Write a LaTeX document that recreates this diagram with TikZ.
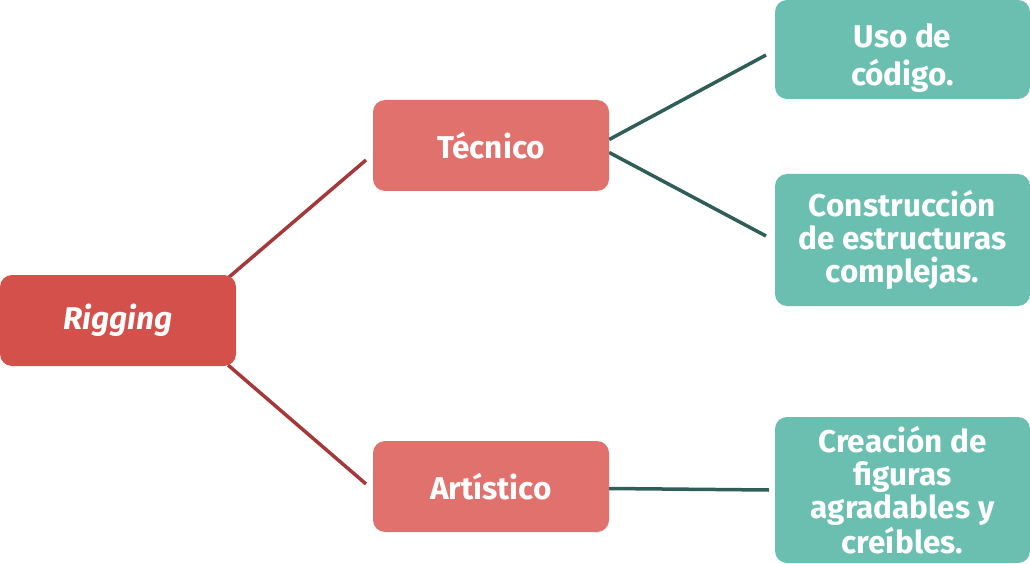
\documentclass[tikz,border=0pt]{standalone}
\usepackage{fontspec}
\setmainfont{Fira Sans}
\usetikzlibrary{backgrounds}
\definecolor{rootred}{HTML}{D4504B}
\definecolor{midred}{HTML}{E0716C}
\definecolor{leafteal}{HTML}{6BBFB1}
\definecolor{linered}{HTML}{A3393A}
\definecolor{lineteal}{HTML}{2F5E58}
\tikzset{
  box/.style={rounded corners=12pt, inner sep=0pt, align=center, text=white,
    font=\fontsize{31.5}{33}\selectfont\bfseries},
  rootbox/.style={box, fill=rootred, minimum width=236pt, minimum height=91pt},
  midbox/.style={box, fill=midred, minimum width=236pt, minimum height=91pt},
  leafbox/.style={box, fill=leafteal, minimum width=255pt},
  redline/.style={draw=linered, line width=3.5pt},
  tealline/.style={draw=lineteal, line width=3.5pt},
}
\begin{document}
\begin{tikzpicture}[x=1pt,y=-1pt]
\useasboundingbox (0,0) rectangle (1030,564);
\node[rootbox] (rig) at (118,320.5) {\itshape Rigging};
\node[midbox] (tec) at (491,145.5) {Técnico};
\node[midbox] (art) at (491,486.5) {Artístico};
\node[leafbox, minimum height=99pt, font=\fontsize{31.5}{38}\selectfont\bfseries] (uso) at (902.5,49.5) {\rule{0pt}{40pt}Uso de\\código.};
\node[leafbox, minimum height=132pt] (con) at (902.5,240) {Construcción\\de estructuras\\complejas.};
\node[leafbox, minimum height=146pt] (cre) at (902.5,490) {Creación de\\figuras\\agradables y\\creíbles.};
\coordinate (e1) at (366,160);
\coordinate (e2) at (366,484);
\coordinate (e3) at (766,55);
\coordinate (e4) at (766,236);
\coordinate (e5) at (769,490);
\begin{scope}[on background layer]
\draw[redline] (rig.north east) ++(-8,3) -- (e1);
\draw[redline] (rig.south east) ++(-8,-1) -- (e2);
\draw[tealline] (tec.east) ++(0,-6) -- (e3);
\draw[tealline] (tec.east) ++(0,7) -- (e4);
\draw[tealline] (art.east) ++(0,2) -- (e5);
\end{scope}
\end{tikzpicture}
\end{document}
